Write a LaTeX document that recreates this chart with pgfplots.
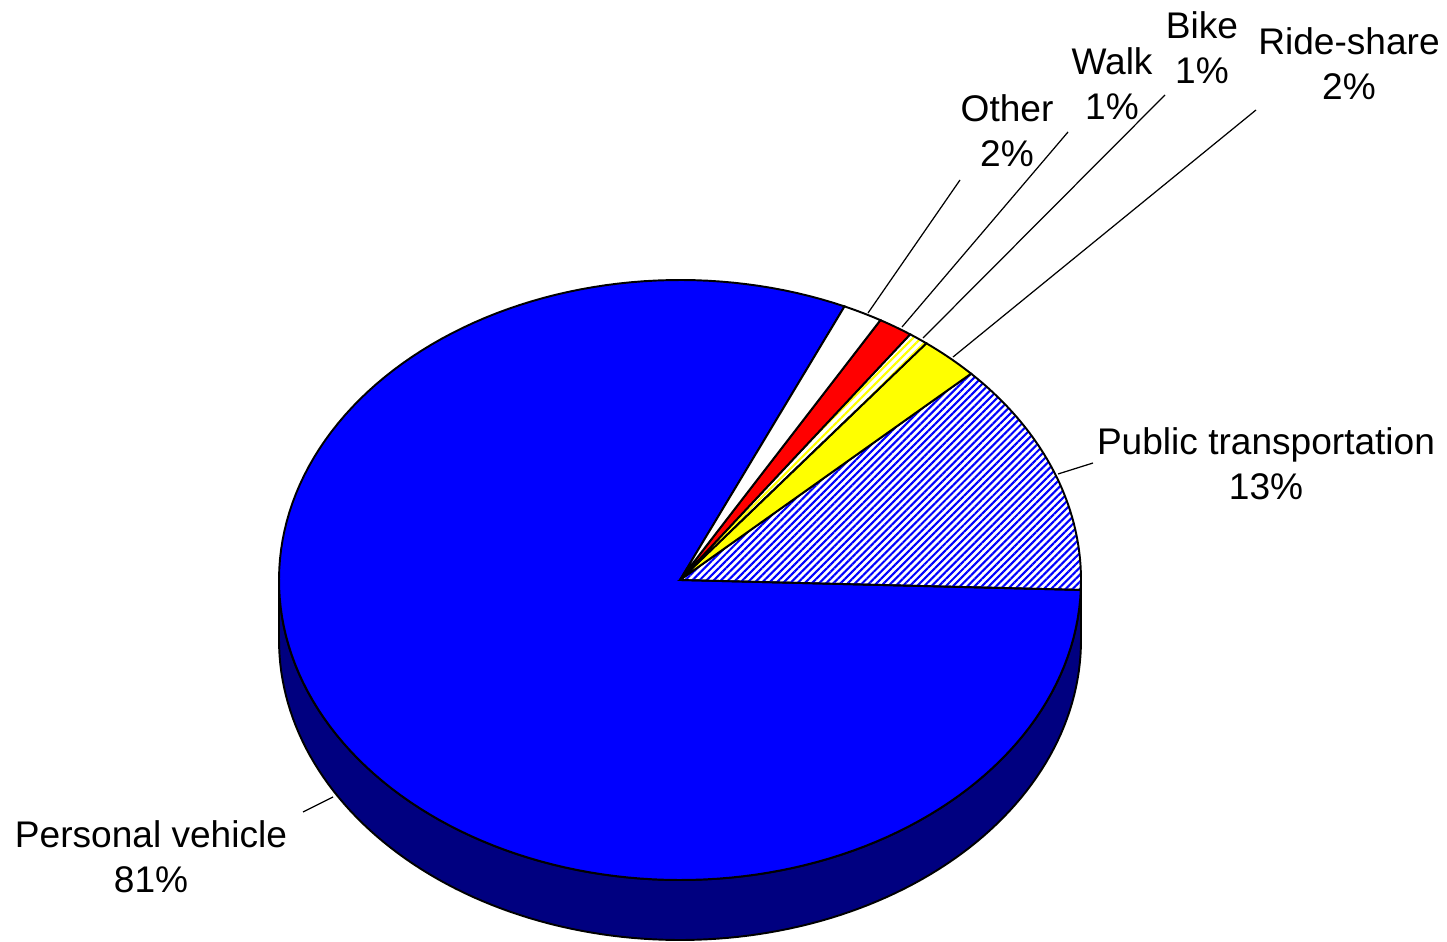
\documentclass[border=0pt]{standalone}
\usepackage{pgfplots}
\pgfplotsset{compat=1.18}
\usepackage{fontspec}
\setmainfont{Liberation Sans}
\usetikzlibrary{patterns.meta}
\definecolor{pvblue}{RGB}{0,0,255}
\definecolor{navyc}{RGB}{0,0,128}
\definecolor{ryellow}{RGB}{255,255,0}
\definecolor{wred}{RGB}{255,0,0}
% shares (percent), counterclockwise from the right
\def\pPublic{12.6}
\def\pRide{2.4}
\def\pBike{0.8}
\def\pWalk{1.4}
\def\pOther{1.6}
\def\pPersonal{81.2}
\pgfmathsetmacro\aA{-1.9}
\pgfmathsetmacro\aB{\aA+3.6*\pPublic}
\pgfmathsetmacro\aC{\aB+3.6*\pRide}
\pgfmathsetmacro\aD{\aC+3.6*\pBike}
\pgfmathsetmacro\aE{\aD+3.6*\pWalk}
\pgfmathsetmacro\aF{\aE+3.6*\pOther}
\pgfmathsetmacro\aG{\aF+3.6*\pPersonal}
\begin{document}
\begin{tikzpicture}
\begin{axis}[
  hide axis, scale only axis,
  width=144.7mm, height=94.1mm,
  xmin=0, xmax=1447, ymin=0, ymax=941,
  clip=false,
  every axis plot/.append style={line width=0.55pt},
]
% invisible frame fixing the picture's extent
\addplot[draw=none, forget plot] coordinates {(0,0) (1447,941)};
% side of the pie
\addplot[fill=navyc, draw=black, domain=180:360, samples=120, variable=\t]
  ({680+401*cos(t)}, {301+300*sin(t)}) -- (axis cs:1081,361)
  arc[start angle=0, end angle=-180, x radius=40.1mm, y radius=30mm] -- cycle;
% slices
\addplot[fill=pvblue, draw=black, domain=\aF:\aG, samples=160, variable=\t]
  ({680+401*cos(t)}, {361+300*sin(t)}) -- (axis cs:680,361) -- cycle;
\addplot[draw=black, pattern={Lines[angle=45,distance=1.45pt,line width=0.6pt]}, pattern color=pvblue, domain=\aA:\aB, samples=40, variable=\t]
  ({680+401*cos(t)}, {361+300*sin(t)}) -- (axis cs:680,361) -- cycle;
\addplot[fill=ryellow, draw=black, domain=\aB:\aC, samples=8, variable=\t]
  ({680+401*cos(t)}, {361+300*sin(t)}) -- (axis cs:680,361) -- cycle;
\addplot[draw=black, pattern={Lines[angle=45,distance=1.6pt,line width=0.6pt]}, pattern color=ryellow, domain=\aC:\aD, samples=4, variable=\t]
  ({680+401*cos(t)}, {361+300*sin(t)}) -- (axis cs:680,361) -- cycle;
\addplot[fill=wred, draw=black, domain=\aD:\aE, samples=6, variable=\t]
  ({680+401*cos(t)}, {361+300*sin(t)}) -- (axis cs:680,361) -- cycle;
\addplot[fill=white, draw=black, domain=\aE:\aF, samples=6, variable=\t]
  ({680+401*cos(t)}, {361+300*sin(t)}) -- (axis cs:680,361) -- cycle;
% leader lines
\addplot[black, line width=0.35pt] coordinates {(303,129) (333,144)};
\addplot[black, line width=0.35pt] coordinates {(1058,467) (1093,478)};
\addplot[black, line width=0.35pt] coordinates {(960,761) (868,628)};
\addplot[black, line width=0.35pt] coordinates {(1068,809) (902,614)};
\addplot[black, line width=0.35pt] coordinates {(1165,846) (923,603)};
\addplot[black, line width=0.35pt] coordinates {(1256,831) (953,584)};
% labels
\begin{scope}[every node/.style={align=center, font=\fontsize{10.55}{12.8}\selectfont, inner sep=0pt}]
\node at (axis cs:151,84) {Personal vehicle\\81\%};
\node at (axis cs:1266,477) {Public transportation\\13\%};
\node at (axis cs:1007,810) {Other\\2\%};
\node at (axis cs:1112,857) {Walk\\1\%};
\node at (axis cs:1202,893) {Bike\\1\%};
\node at (axis cs:1349,877) {Ride-share\\2\%};
\end{scope}
\end{axis}
\end{tikzpicture}
\end{document}
